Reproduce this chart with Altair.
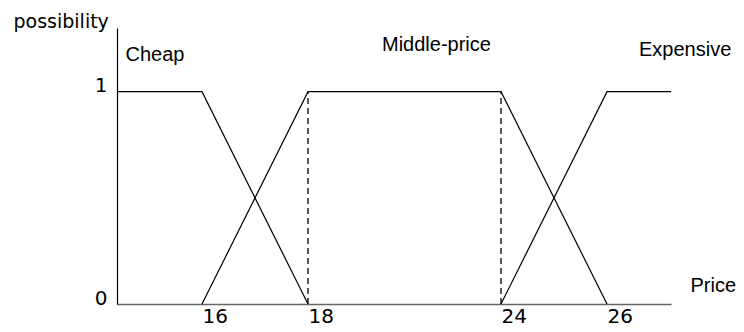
import altair as alt
import pandas as pd

# Membership functions (schematic fuzzy sets of price)
cheap_price = [14, 16, 18]
cheap_poss = [1, 1, 0]
mid_price = [16, 18, 24, 26]
mid_poss = [0, 1, 1, 0]
exp_price = [24, 26, 27]
exp_poss = [0, 1, 1]

dashed_price = [18, 24]
dashed_top = [1, 1]

x_ticks = [16, 18, 24, 26]
y_ticks = [0, 1]

set_labels = ["Cheap", "Middle-price", "Expensive"]
label_price = [14.2, 20.3, 26.5]
label_poss = [1.145, 1.19, 1.168]

rows = []
for name, xs, ys in [("Cheap", cheap_price, cheap_poss),
                     ("Middle-price", mid_price, mid_poss),
                     ("Expensive", exp_price, exp_poss)]:
    for i, (a, b) in enumerate(zip(xs, ys)):
        rows.append({"set": name, "price": a, "poss": b, "order": i})
lines_df = pd.DataFrame(rows)
dash_df = pd.DataFrame({"price": dashed_price, "top": dashed_top, "bottom": [0, 0]})
text_df = pd.DataFrame({"label": set_labels, "price": label_price, "poss": label_poss})

xscale = alt.Scale(domain=[14, 16, 18, 24, 26, 27], range=[0, 85, 191, 384, 490, 554],
                   nice=False, zero=False)
yscale = alt.Scale(domain=[0, 1.3], nice=False, zero=True)

xaxis = alt.Axis(values=x_ticks, ticks=False, grid=False, labelFont="DejaVu Sans",
                 labelFontSize=20, labelAlign="left", labelBaseline="top", labelPadding=2,
                 labelFlush=False, labelColor="black", domainColor="#666666", domainWidth=1.5,
                 title="Price", titleX=573, titleY=-13, titleAlign="left",
                 titleBaseline="alphabetic", titleFont="Liberation Sans", titleFontSize=20,
                 titleFontWeight="normal", titleColor="black", format="d")
yaxis = alt.Axis(values=y_ticks, ticks=False, grid=False, labelFont="DejaVu Sans",
                 labelFontSize=20, labelBaseline="alphabetic", labelPadding=10,
                 labelFlush=False, labelColor="black", domainColor="black", domainWidth=1.2,
                 title="possibility", titleAngle=0, titleX=-104, titleY=-1, titleAlign="left",
                 titleBaseline="alphabetic", titleFont="DejaVu Sans", titleFontSize=19,
                 titleFontWeight="normal", titleColor="black", format="d")

lines = alt.Chart(lines_df).mark_line(color="black", strokeWidth=1.2).encode(
    x=alt.X("price:Q", scale=xscale, axis=xaxis),
    y=alt.Y("poss:Q", scale=yscale, axis=yaxis),
    detail="set:N",
    order="order:Q",
)

dashes = alt.Chart(dash_df).mark_rule(color="black", strokeWidth=1.3, strokeDash=[6, 4]).encode(
    x=alt.X("price:Q", scale=xscale),
    y=alt.Y("bottom:Q", scale=yscale),
    y2="top:Q",
)

texts = alt.Chart(text_df).mark_text(align="left", baseline="alphabetic",
                                     font="Liberation Sans", fontSize=20, color="black").encode(
    x=alt.X("price:Q", scale=xscale),
    y=alt.Y("poss:Q", scale=yscale),
    text="label:N",
)

chart = alt.layer(lines, dashes, texts).properties(
    width=554, height=276,
    autosize=alt.AutoSizeParams(type="none"),
    padding={"left": 109, "top": 20, "right": 65, "bottom": 26},
).configure_view(stroke=None)

chart.save("out.html", embed_options={"renderer": "svg", "actions": False})
